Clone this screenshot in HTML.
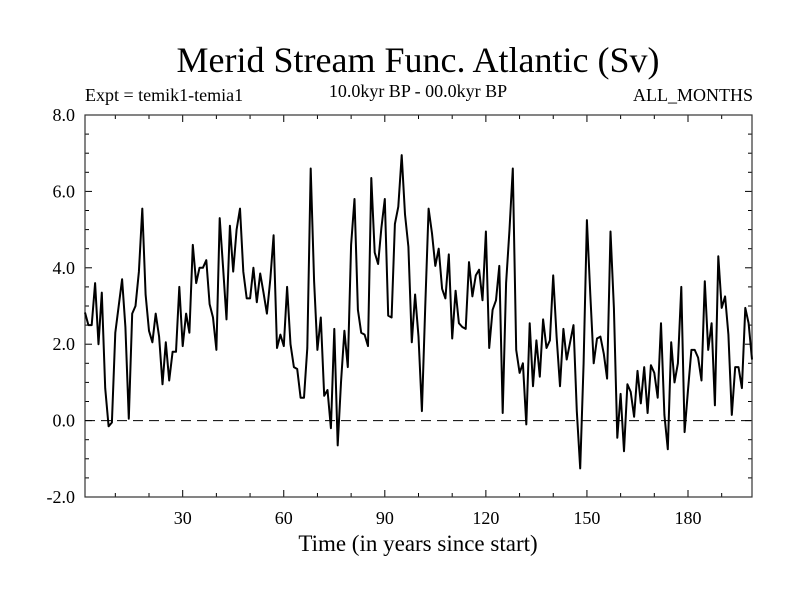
<!DOCTYPE html>
<html><head><meta charset="utf-8"><style>
body{margin:0;background:#fff;}
svg{display:block;font-family:"Liberation Serif",serif;}
</style></head><body>
<svg id="chart" width="800" height="600" viewBox="0 0 800 600">
<rect width="800" height="600" fill="#fff"/>
<text x="418" y="72" font-size="36" text-anchor="middle">Merid Stream Func. Atlantic (Sv)</text>
<text x="85" y="101" font-size="18">Expt = temik1-temia1</text>
<text x="418" y="97" font-size="18" text-anchor="middle">10.0kyr BP - 00.0kyr BP</text>
<text x="753" y="101" font-size="18" text-anchor="end">ALL_MONTHS</text>
<text x="418" y="551" font-size="23" text-anchor="middle">Time (in years since start)</text>
<g id="axes"></g>
<g id="plot"></g>
</svg>
<script>
const values = [2.83,2.5,2.5,3.6,2.0,3.35,0.85,-0.15,-0.05,2.3,3.0,3.7,2.45,0.05,2.8,3.0,3.9,5.55,3.3,2.35,2.05,2.8,2.2,0.95,2.05,1.05,1.8,1.8,3.5,1.95,2.8,2.3,4.6,3.6,4.0,4.0,4.2,3.05,2.7,1.85,
5.3,4.0,2.65,5.1,3.9,5.0,5.55,3.9,3.2,3.2,4.0,3.1,3.85,3.35,2.8,3.7,4.85,1.9,2.25,1.95,3.5,2.0,1.4,1.35,0.6,0.6,1.9,6.6,3.65,1.85,2.7,0.65,0.8,-0.2,2.4,-0.65,1.0,2.35,1.4,4.6,
5.8,2.9,2.3,2.25,1.95,6.35,4.4,4.1,5.05,5.8,2.75,2.7,5.15,5.6,6.95,5.4,4.55,2.05,3.3,2.2,0.25,2.95,5.55,4.9,4.05,4.5,3.45,3.2,4.35,2.15,3.4,2.55,2.45,2.4,4.15,3.25,3.8,3.95,3.15,4.95,
1.9,2.9,3.15,4.05,0.2,3.6,5.0,6.6,1.85,1.25,1.5,-0.1,2.55,0.9,2.1,1.15,2.65,1.9,2.1,3.8,2.2,0.9,2.4,1.6,2.05,2.5,0.25,-1.25,1.5,5.25,3.3,1.5,2.15,2.2,1.75,1.1,4.95,2.95,-0.45,0.7,
-0.8,0.95,0.75,0.1,1.3,0.45,1.4,0.2,1.45,1.25,0.6,2.55,0.15,-0.75,2.05,1.0,1.5,3.5,-0.3,0.8,1.85,1.85,1.65,1.05,3.65,1.85,2.55,0.4,4.3,2.95,3.25,2.25,0.15,1.4,1.4,0.85,2.95,2.55,1.6];
const xTicks = [30,60,90,120,150,180];
const yTicks = [-2,0,2,4,6,8];
const yTickLabels = ["-2.0","0.0","2.0","4.0","6.0","8.0"];
const xDomain = [1,199];
const yDomain = [-2,8];

const L=85,R=752,T=115,B=497;
const NS='http://www.w3.org/2000/svg';
const sx=v=>L+(v-xDomain[0])/(xDomain[1]-xDomain[0])*(R-L);
const sy=v=>B-(v-yDomain[0])/(yDomain[1]-yDomain[0])*(B-T);
const axes=document.getElementById('axes'), plot=document.getElementById('plot');
function mk(tag,attrs,parent){const e=document.createElementNS(NS,tag);for(const k in attrs)e.setAttribute(k,attrs[k]);parent.appendChild(e);return e;}

for(let v=yDomain[0];v<=yDomain[1]+1e-9;v+=0.5){
  const major=Math.abs(v-Math.round(v/2)*2)<1e-9;
  const len=major?7:4;
  const t1=mk('line',{x1:L,x2:L+len,y1:sy(v),y2:sy(v),stroke:'#000','stroke-width':1},axes);
  
  
  const t2=mk('line',{x1:R,x2:R-len,y1:sy(v),y2:sy(v),stroke:'#000','stroke-width':1},axes);
  
  
}
for(let v=10;v<=xDomain[1];v+=10){
  const major=v%30===0;
  const len=major?7:4;
  const t1=mk('line',{x1:sx(v),x2:sx(v),y1:B,y2:B-len,stroke:'#000','stroke-width':1},axes);
  
  
  const t2=mk('line',{x1:sx(v),x2:sx(v),y1:T,y2:T+len,stroke:'#000','stroke-width':1},axes);
  
  
}
yTicks.forEach((v,i)=>{
  const t=mk('text',{x:L-10,y:sy(v)+6,'font-size':18,'text-anchor':'end'},axes);
  t.textContent=yTickLabels[i];
  
  
});
xTicks.forEach(v=>{
  const t=mk('text',{x:sx(v),y:B+27,'font-size':18,'text-anchor':'middle'},axes);
  t.textContent=String(v);
  
  
});
const zl=mk('line',{x1:L,x2:R,y1:sy(0),y2:sy(0),stroke:'#000','stroke-width':1,'stroke-dasharray':'10,6'},plot);


const pts=values.map((v,i)=>sx(xDomain[0]+i).toFixed(1)+','+sy(v).toFixed(1)).join(' ');
const pl=mk('polyline',{points:pts,fill:'none',stroke:'#000','stroke-width':2,'stroke-linejoin':'round'},plot);


const fr=mk('rect',{x:L,y:T,width:R-L,height:B-T,fill:'none',stroke:'#333','stroke-width':1.2},axes);


</script>
</body></html>
